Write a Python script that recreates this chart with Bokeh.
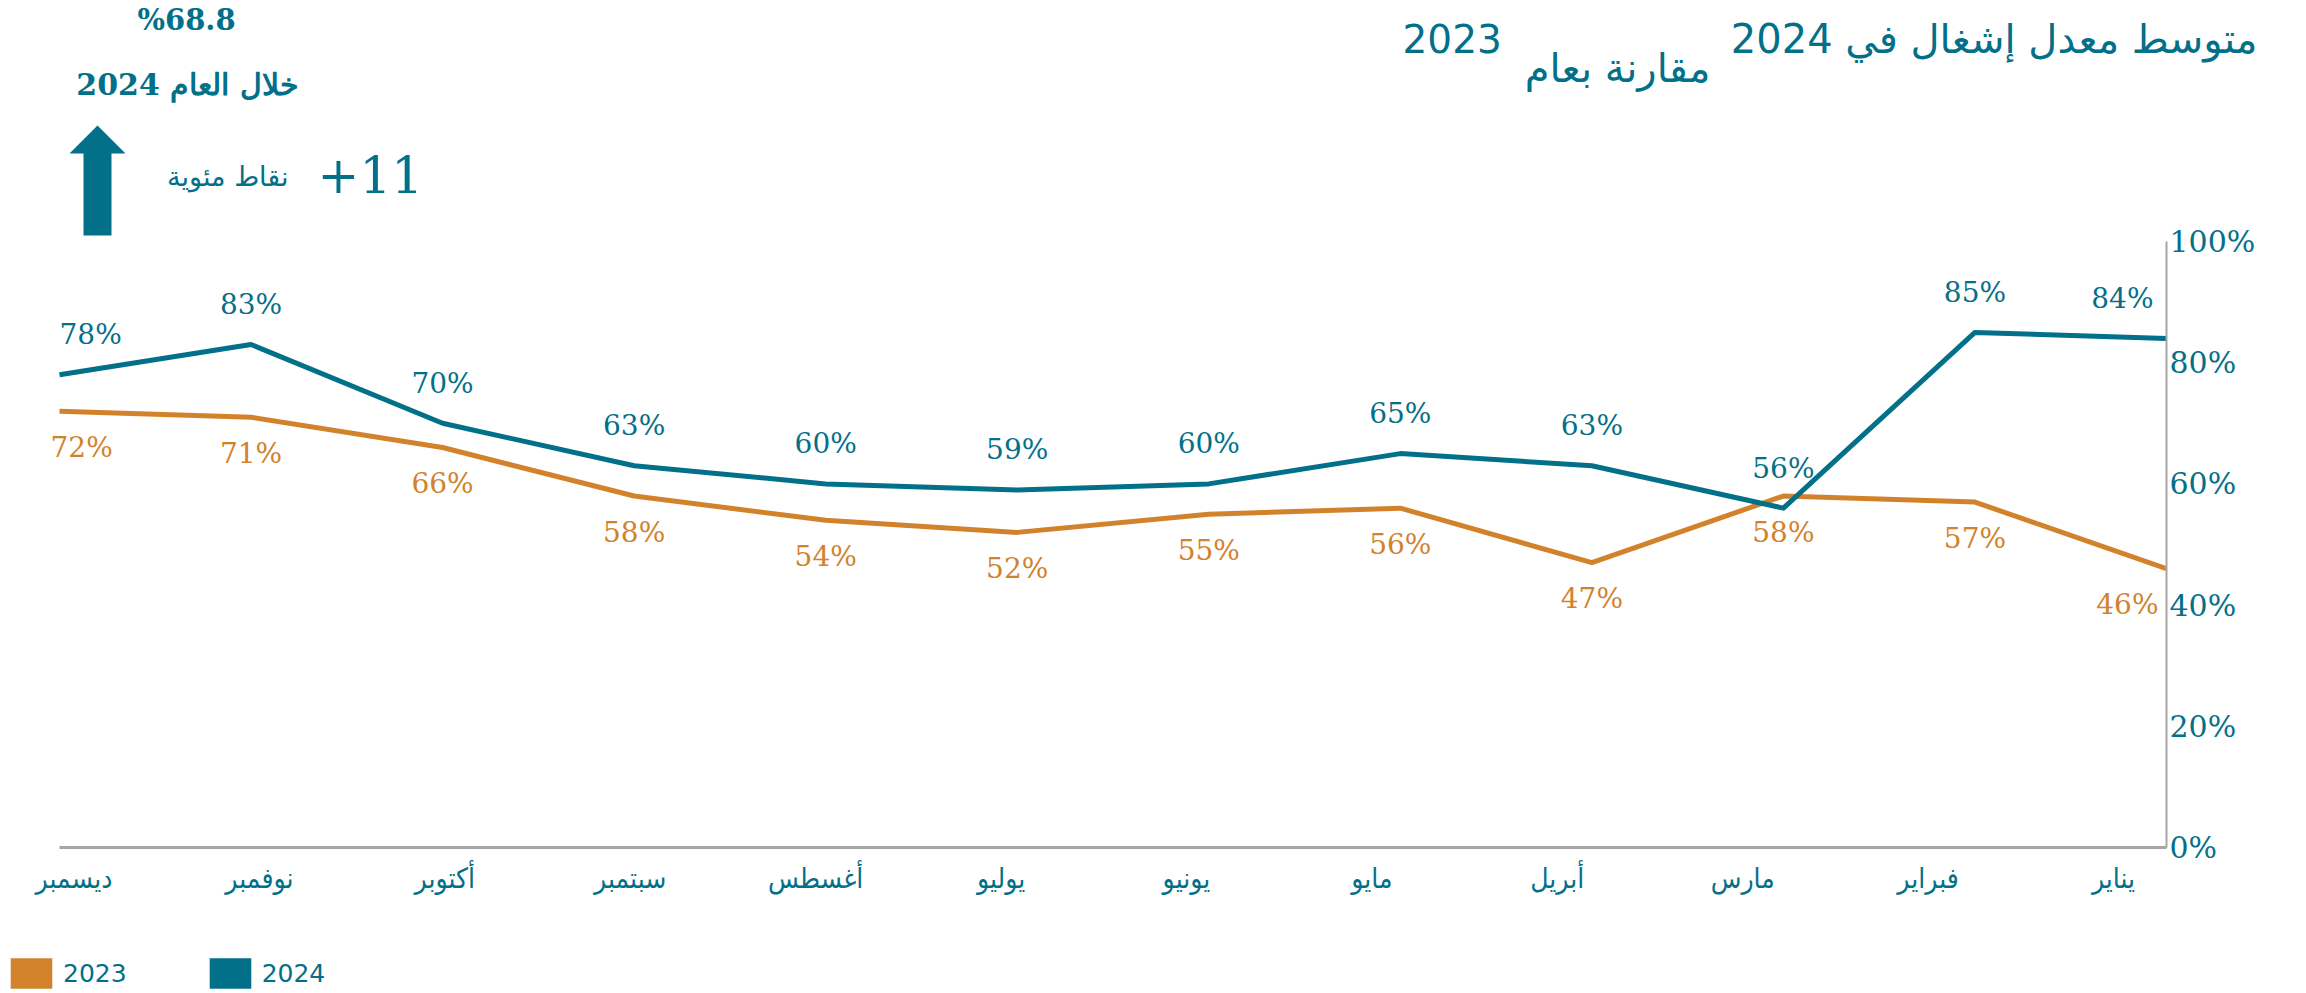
from bokeh.plotting import figure
from bokeh.layouts import column, row
from bokeh.models import (Range1d, LinearAxis, FixedTicker, PrintfTickFormatter,
                          Legend, LegendItem, ColumnDataSource)
from bokeh.core.properties import value
from bokeh.embed import file_html
from bokeh.resources import INLINE

# ---------------- data (chronological: January .. December) ----------------
months = ["يناير", "فبراير", "مارس", "أبريل", "مايو", "يونيو",
          "يوليو", "أغسطس", "سبتمبر", "أكتوبر", "نوفمبر", "ديسمبر"]
occ_2024 = [84, 85, 56, 63, 65, 60, 59, 60, 63, 70, 83, 78]
occ_2023 = [46, 57, 58, 47, 56, 55, 52, 54, 58, 66, 71, 72]
y_ticks = [0, 20, 40, 60, 80, 100]
series_names = ["2023", "2024"]
title_line1 = "متوسط معدل إشغال في 2024"
title_year = "2023"
title_line2 = "مقارنة بعام"
kpi_caption = "خلال العام 2024"
kpi_unit = "نقاط مئوية"

TEAL = "#03708A"
ORANGE = "#D3822C"
GRAY = "#A6A6A6"
W = 2300

avg24 = sum(occ_2024) / len(occ_2024)
avg23 = sum(occ_2023) / len(occ_2023)
idx = list(range(len(months)))


def bare(fig):
    fig.outline_line_color = None
    fig.grid.visible = False
    fig.background_fill_color = "white"
    fig.border_fill_color = "white"


def htext(fig, x, y, t, size, align="left", bold=False, font="DejaVu Sans", **kw):
    fig.text(x=[x], y=[y], text=[t], text_align=align, text_baseline="middle",
             text_font=value(font), text_font_size=size, text_color=TEAL,
             text_font_style="bold" if bold else "normal", **kw)


# ---------------- header (title + KPI) : coordinates = pixels ----------------
HH = 105
h = figure(width=W, height=HH, x_range=Range1d(0, W), y_range=Range1d(HH, 0),
           min_border=0, min_border_left=0, min_border_right=0,
           min_border_top=0, min_border_bottom=0,
           x_axis_location=None, y_axis_location=None,
           output_backend="svg", toolbar_location=None)
bare(h)
htext(h, 2257, 38, title_line1, "40px", align="right")
htext(h, 1402, 38, title_year, "39px")
htext(h, 1710, 67, title_line2, "40px", align="right")
htext(h, 186, 19, f"%{avg24:.1f}", "29px", align="center", bold=True, font="DejaVu Serif")
htext(h, 187, 84, kpi_caption, "30px", align="center", bold=True, font="DejaVu Serif")

# ---------------- main chart ----------------
FT = 105           # frame top (page px)
Y0, Y100 = 847, 241
XR, XL = 2166, 59  # x of January (right) and December (left)
ppu_x = (XR - XL) / 11
ppu_y = (Y0 - Y100) / 100

p = figure(width=W, height=845,
           min_border_left=0, min_border_right=W - XR, min_border_top=0, min_border_bottom=103,
           x_range=Range1d(11 + XL / ppu_x, 0), y_range=Range1d(0, 100 + (Y100 - FT) / ppu_y),
           x_axis_location=None, y_axis_location="right",
           output_backend="svg", toolbar_location=None)
bare(p)
p.extra_x_ranges = {"px": Range1d(0, XR),
                    "lbl": Range1d(2113 / 185.41, -53 / 185.41)}
p.extra_y_ranges = {"px": Range1d(Y0, FT)}

ya = p.yaxis[0]
ya.ticker = FixedTicker(ticks=y_ticks)
ya.bounds = (0, 100)
ya.formatter = PrintfTickFormatter(format="%d%%")
ya.axis_line_color = GRAY
ya.axis_line_width = 2
ya.major_tick_line_color = None
ya.minor_tick_line_color = None
ya.major_label_standoff = -3
ya.major_label_text_font = "DejaVu Serif"
ya.major_label_text_font_size = "30px"
ya.major_label_text_color = TEAL

xa = LinearAxis(x_range_name="lbl", ticker=FixedTicker(ticks=idx),
                bounds=(-53 / 185.41, (2113 - XL) / 185.41),
                major_label_overrides={i: m for i, m in zip(idx, months)})
xa.axis_line_color = GRAY
xa.axis_line_width = 3
xa.major_tick_line_color = None
xa.minor_tick_line_color = None
xa.major_label_standoff = 8
xa.major_label_text_font = "DejaVu Sans Condensed"
xa.major_label_text_font_size = "28px"
xa.major_label_text_color = TEAL
p.add_layout(xa, "below")

p.line(idx, occ_2023, line_color=ORANGE, line_width=5, line_join="round")
p.line(idx, occ_2024, line_color=TEAL, line_width=5, line_join="round")

n = len(idx)
aligns = ["right"] + ["center"] * (n - 2) + ["left"]
src24 = ColumnDataSource(dict(x=idx, y=occ_2024, t=[f"{v:.0f}%" for v in occ_2024],
                              a=aligns, xo=[-13] + [0] * (n - 1)))
src23 = ColumnDataSource(dict(x=idx, y=occ_2023, t=[f"{v:.0f}%" for v in occ_2023],
                              a=aligns, xo=[-8] + [0] * (n - 2) + [-9]))
p.text(x="x", y="y", text="t", source=src24, text_align="a", x_offset="xo", y_offset=-40,
       text_baseline="middle", text_font=value("DejaVu Serif"), text_font_size="28px",
       text_color=TEAL)
p.text(x="x", y="y", text="t", source=src23, text_align="a", x_offset="xo", y_offset=36,
       text_baseline="middle", text_font=value("DejaVu Serif"), text_font_size="28px",
       text_color=ORANGE)

# KPI arrow and change (pixel coordinates)
px = dict(x_range_name="px", y_range_name="px")
p.patch(x=[97, 125, 111, 111, 83, 83, 69], y=[125, 153, 153, 235, 235, 153, 153],
        fill_color=TEAL, line_color=None, **px)
htext(p, 317, 174, f"+{avg24 - avg23:.0f}", "50px", font="DejaVu Serif", **px)
htext(p, 288, 176, kpi_unit, "27px", align="right", **px)

# ---------------- footer legend ----------------
f = figure(width=W, height=43, x_range=Range1d(0, 1), y_range=Range1d(0, 1),
           min_border=0, min_border_left=0, min_border_right=0,
           min_border_top=0, min_border_bottom=0,
           x_axis_location=None, y_axis_location=None,
           output_backend="svg", toolbar_location=None)
bare(f)
r23 = f.quad(left=[5], right=[6], top=[6], bottom=[5], fill_color=ORANGE, line_color=None)
r24 = f.quad(left=[5], right=[6], top=[6], bottom=[5], fill_color=TEAL, line_color=None)
legend = Legend(items=[LegendItem(label=series_names[0], renderers=[r23]),
                       LegendItem(label=series_names[1], renderers=[r24])],
                location=(5, 1), orientation="horizontal",
                glyph_width=52, glyph_height=38, label_standoff=6, spacing=77,
                padding=0, margin=0, border_line_alpha=0, background_fill_alpha=0,
                label_text_font="DejaVu Sans", label_text_font_size="25px",
                label_text_color=TEAL, label_height=38)
f.add_layout(legend, "center")

page = column(row(h), row(p), row(f), spacing=0)
open("out.html", "w").write(file_html(page, INLINE))
